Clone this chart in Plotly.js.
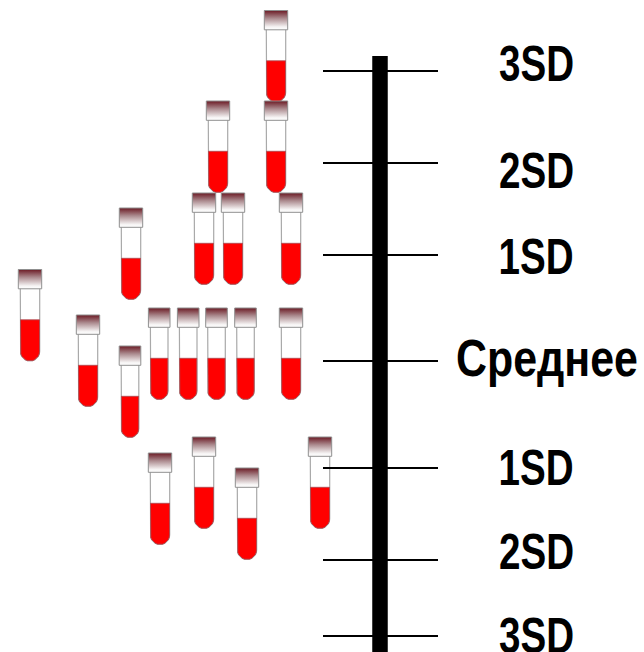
<!DOCTYPE html>
<html><head><meta charset="utf-8">
<script src="https://cdn.plot.ly/plotly-3.0.1.min.js"></script>
<style>html,body{margin:0;padding:0;background:#fff}#c{width:644px;height:652px}</style>
</head><body><div id="c"></div>
<script>
const tubeCenterX   = [276,218,276,204,233,291,131,30,159.2,188.2,216.5,245.5,291,88,130,204,320,160,247];
const tubeTopY      = [10.5,101,101,193,193,193,208,269.5,308,308,308,308,308,315,346,437,437,453,468];
const tubeHalfWidth = [9.7,9.7,9.7,9.7,9.7,9.7,9.7,9.7,8.8,8.8,8.8,8.8,9.7,9.7,8.8,9.7,9.7,9.7,9.7];
const levelLabels = ['3SD','2SD','1SD','Среднее','1SD','2SD','3SD'];
const levelTickY  = [71,163,255,361,468,560,636];
const labelX      = [536.5,536.5,536,547,536,536.5,536.5];
const labelY      = [68,175,261,363,472,556,640];
const labelSize   = [50,50,50,52,50,50,50];
const labelWidth  = [75,75,75,182,75,75,75];

const traces = [];
function poly(xs, ys, fill, line, lw, extra){
  traces.push(Object.assign({type:'scatter',mode:lw?'lines':'none',x:xs,y:ys,fill:'toself',fillcolor:fill,
    line:{color:line,width:lw||0},hoverinfo:'skip',showlegend:false},extra||{}));
}
function rounded(cx, top, hw, bottom){
  const xs=[cx-hw], ys=[top], r=hw, cy=bottom-r;
  for(let a=180;a>=0;a-=15){
    xs.push(cx+r*Math.cos(a*Math.PI/180));
    ys.push(cy+r*Math.sin(a*Math.PI/180));
  }
  xs.push(cx+hw, cx-hw); ys.push(top, top);
  return [xs,ys];
}
tubeCenterX.forEach((cx,i)=>{
  const t=tubeTopY[i], hw=tubeHalfWidth[i], cap=hw+2;
  const body=rounded(cx,t+18,hw,t+91.5);
  poly(body[0],body[1],'#ffffff','#a9a9a9',1.2);
  const liq=rounded(cx,t+50.3,hw-0.2,t+91.5);
  poly(liq[0],liq[1],'#ff0000','#a84a50',0.8);
  poly([cx-cap,cx+cap,cx+cap,cx-cap,cx-cap],[t,t,t+19.3,t+19.3,t],'#ffffff','#8f8f8f',1,{
    fillgradient:{type:'vertical',colorscale:[[0,'#ffffff'],[0.15,'#f6f4f4'],[0.6,'#ab8a8e'],[1,'#6b1a24']]}
  });
});
traces.push({type:'scatter',mode:'lines',x:[380,380],y:[56,652],line:{color:'#000',width:15.5},hoverinfo:'skip',showlegend:false});
levelTickY.forEach(y=>traces.push({type:'scatter',mode:'lines',x:[323,438],y:[y,y],line:{color:'#000',width:1.8},hoverinfo:'skip',showlegend:false}));
traces.push({type:'scatter',mode:'text',x:labelX,y:labelY,text:levelLabels,textposition:'middle center',
  textfont:{family:'"Liberation Sans",Arial,sans-serif',size:labelSize,color:'#000',weight:700},hoverinfo:'skip',showlegend:false,cliponaxis:false});

Plotly.newPlot('c',traces,{
  width:644,height:652,margin:{l:0,r:0,t:0,b:0},paper_bgcolor:'#fff',plot_bgcolor:'#fff',showlegend:false,
  xaxis:{range:[0,644],visible:false,fixedrange:true},
  yaxis:{range:[652,0],visible:false,fixedrange:true}
},{displayModeBar:false,staticPlot:true}).then(gd=>{
  // the reference lettering is condensed: fit each label to its measured width
  gd.querySelectorAll('.textpoint text').forEach((el,i)=>{
    el.setAttribute('textLength',labelWidth[i]);
    el.setAttribute('lengthAdjust','spacingAndGlyphs');
  });
});
</script></body></html>
